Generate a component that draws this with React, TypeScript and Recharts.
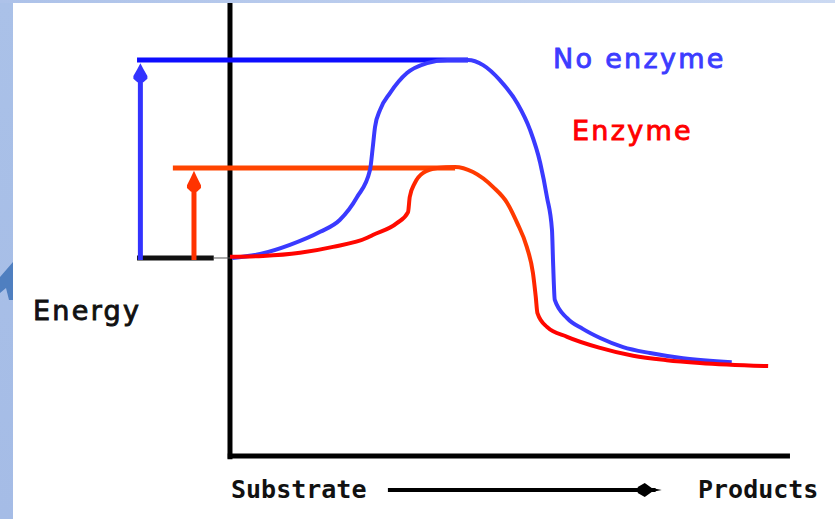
import React from 'react';
import { ComposedChart, Line, XAxis, YAxis, ReferenceLine, ReferenceDot } from 'recharts';

// Reaction progress (x) and energy (y) — uncatalysed reaction
const noEnzymeX = [0.4, 5.4, 10.7, 16.1, 19.6, 22.7, 25.0, 25.5, 25.9, 26.8, 28.6, 31.6, 35.2, 38.8, 42.5, 45.2, 48.2, 51.3, 53.6, 55.4, 56.6, 57.5, 57.7, 58.0, 60.2, 63.0, 66.1, 70.2, 75.0, 80.9, 89.6];
const noEnzymeY = [50.0, 51.0, 53.3, 56.6, 59.6, 65.4, 72.2, 78.0, 83.1, 87.4, 91.7, 96.7, 99.2, 100, 100, 98.7, 94.9, 89.1, 82.3, 74.0, 65.4, 57.1, 48.7, 39.4, 34.8, 32.1, 29.8, 27.5, 26.0, 24.7, 23.7];

// Reaction progress (x) and energy (y) — enzyme-catalysed reaction
const enzymeX = [0, 5.9, 12.5, 18.4, 24.5, 25.5, 29.8, 31.8, 32.1, 33.0, 34.5, 37.0, 40.2, 43.4, 47.0, 49.5, 51.3, 53.0, 54.1, 54.6, 54.9, 56.6, 60.2, 66.1, 72.0, 78.0, 83.9, 96.1];
const enzymeY = [50.3, 50.5, 51.3, 52.8, 55.1, 55.8, 58.8, 61.6, 65.4, 68.9, 71.5, 72.7, 73.0, 71.7, 67.9, 63.9, 58.8, 52.8, 46.2, 40.2, 36.1, 32.6, 30.1, 27.3, 25.3, 24.2, 23.5, 22.7];

// Energy levels
const substrateEnergy = 50;
const noEnzymePeak = 100;
const enzymePeak = 72.7;

// Text labels
const labelNoEnzyme = 'No enzyme';
const labelEnzyme = 'Enzyme';
const labelEnergy = 'Energy';
const labelSubstrate = 'Substrate';
const labelProducts = 'Products';

const noEnzymeData = noEnzymeX.map((x, i) => ({ x, y: noEnzymeY[i] }));
const enzymeData = enzymeX.map((x, i) => ({ x, y: enzymeY[i] }));

const W = 835;
const H = 519;

const upHead = (color: string, h: number, hw: number) => (props: any) => {
  const { cx, cy } = props;
  if (cx == null || cy == null) return <g />;
  const pts: [number, number][] = [
    [0, 0], [-hw * 0.45, h * 0.32], [-hw, h * 0.68], [-hw, h * 0.82], [-3, h], [3, h], [hw, h * 0.82], [hw, h * 0.68], [hw * 0.45, h * 0.32],
  ];
  return <polygon points={pts.map(([dx, dy]) => `${cx + dx},${cy + dy}`).join(' ')} fill={color} />;
};

const rightHead = (props: any) => {
  const { cx, cy } = props;
  if (cx == null || cy == null) return <g />;
  const pts: [number, number][] = [
    [0, 0], [-10, -2], [-17, -7], [-24, -3], [-24, 3], [-17, 7], [-10, 2],
  ];
  return <polygon points={pts.map(([dx, dy]) => `${cx + dx},${cy + dy}`).join(' ')} fill="#000" />;
};

const textStyle = { paintOrder: 'stroke' as const };

export default function App() {
  return (
    <div style={{ position: 'absolute', left: 0, top: 0, width: W, height: H, background: '#fff', overflow: 'hidden' }}>
      <svg width={0} height={0} style={{ position: 'absolute' }}>
        <defs>
          <linearGradient id="enzymeStroke" x1="0" y1="0" x2="1" y2="0">
            <stop offset="0" stopColor="#ff0000" />
            <stop offset="0.32" stopColor="#ff0a00" />
            <stop offset="0.36" stopColor="#ff3a00" />
            <stop offset="0.555" stopColor="#ff3a00" />
            <stop offset="0.585" stopColor="#ff0000" />
            <stop offset="1" stopColor="#ff0000" />
          </linearGradient>
        </defs>
      </svg>
      <div style={{ position: 'absolute', left: 0, top: 0, width: 13, height: H, background: 'linear-gradient(to bottom, #aac1e8, #a5bce6)' }} />
      <div style={{ position: 'absolute', left: 0, top: 0, width: W, height: 3, background: 'linear-gradient(to right, #adc2e9, #cbd9f2)' }} />
      <div
        style={{
          position: 'absolute',
          left: 0,
          top: 258,
          width: 13,
          height: 44,
          background: '#4f7fc0',
          clipPath: 'polygon(0px 19px, 13px 4px, 13px 42px, 9px 42px, 6px 30px, 0px 35px)',
        }}
      />
      <div style={{ position: 'absolute', left: 0, top: 0 }}>
        <ComposedChart width={W} height={H} margin={{ top: 0, right: 0, bottom: 0, left: 0 }}>
          <XAxis type="number" dataKey="x" hide domain={[-41.07, 108.04]} allowDataOverflow />
          <YAxis type="number" dataKey="y" hide domain={[-15.91, 115.15]} allowDataOverflow />

          {/* axes */}
          <ReferenceLine segment={[{ x: 0, y: 114.4 }, { x: 0, y: -0.8 }]} stroke="#000" strokeWidth={5} ifOverflow="visible" />
          <ReferenceLine segment={[{ x: -0.4, y: 0 }, { x: 100, y: 0 }]} stroke="#000" strokeWidth={5} ifOverflow="visible" />

          {/* substrate level */}
          <ReferenceLine segment={[{ x: -16.6, y: substrateEnergy }, { x: -2.9, y: substrateEnergy }]} stroke="#111" strokeWidth={5} ifOverflow="visible" />
          <ReferenceLine segment={[{ x: -2.9, y: substrateEnergy }, { x: 0, y: substrateEnergy }]} stroke="#555" strokeWidth={1} ifOverflow="visible" />

          {/* activation energy levels */}
          <ReferenceLine segment={[{ x: -16.6, y: noEnzymePeak }, { x: 42.5, y: noEnzymePeak }]} stroke="#0d0dff" strokeWidth={5} ifOverflow="visible" />
          <ReferenceLine segment={[{ x: -10.2, y: enzymePeak }, { x: 40.2, y: enzymePeak }]} stroke="#ff4400" strokeWidth={5} ifOverflow="visible" />

          {/* activation energy arrows */}
          <ReferenceLine segment={[{ x: -16, y: substrateEnergy - 0.5 }, { x: -16, y: 96 }]} stroke="#3333ff" strokeWidth={5} ifOverflow="visible" />
          <ReferenceDot x={-16} y={99.2} r={0} ifOverflow="visible" shape={upHead('#3333ff', 19, 7)} />
          <ReferenceLine segment={[{ x: -6.43, y: substrateEnergy - 0.5 }, { x: -6.43, y: 70 }]} stroke="#ff3300" strokeWidth={5} ifOverflow="visible" />
          <ReferenceDot x={-6.43} y={72.0} r={0} ifOverflow="visible" shape={upHead('#ff3300', 21, 7)} />

          {/* reaction direction arrow */}
          <ReferenceLine segment={[{ x: 28.2, y: -8.6 }, { x: 76, y: -8.6 }]} stroke="#000" strokeWidth={4} ifOverflow="visible" />
          <ReferenceDot x={77.1} y={-8.6} r={0} ifOverflow="visible" shape={rightHead} />

          {/* energy profiles */}
          <Line data={noEnzymeData} dataKey="y" type="monotone" stroke="#3a3aff" strokeWidth={4} dot={false} activeDot={false} isAnimationActive={false} />
          <Line data={enzymeData} dataKey="y" type="monotone" stroke="url(#enzymeStroke)" strokeWidth={4} dot={false} activeDot={false} isAnimationActive={false} />
        </ComposedChart>
      </div>
      <svg width={W} height={H} style={{ position: 'absolute', left: 0, top: 0, pointerEvents: 'none' }}>
        <text x={553} y={68} fill="#3c3cff" stroke="#3c3cff" strokeWidth={0.9} style={textStyle} fontFamily="DejaVu Sans" fontSize={27} letterSpacing={2.3}>{labelNoEnzyme}</text>
        <text x={572} y={140} fill="#ff0000" stroke="#ff0000" strokeWidth={0.9} style={textStyle} fontFamily="DejaVu Sans" fontSize={27} letterSpacing={2.3}>{labelEnzyme}</text>
        <text x={33} y={320} fill="#111" stroke="#111" strokeWidth={0.9} style={textStyle} fontFamily="DejaVu Sans" fontSize={27} letterSpacing={2.3}>{labelEnergy}</text>
        <text x={231} y={498} fill="#111" fontFamily="DejaVu Sans Mono" fontWeight="bold" fontSize={25}>{labelSubstrate}</text>
        <text x={698} y={498} fill="#111" fontFamily="DejaVu Sans Mono" fontWeight="bold" fontSize={25}>{labelProducts}</text>
      </svg>
    </div>
  );
}
